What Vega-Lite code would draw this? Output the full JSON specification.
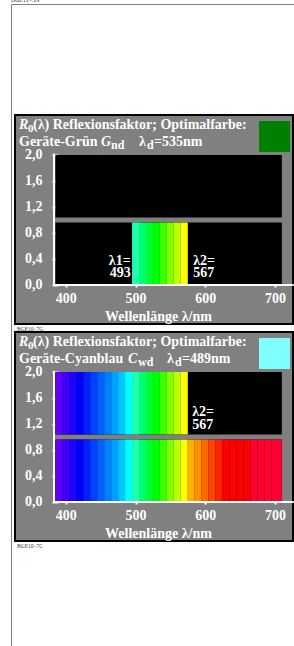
{
  "$schema": "https://vega.github.io/schema/vega-lite/v6.json",
  "autosize": {"type": "none"},
  "padding": {"left": 15, "top": 115, "right": 279, "bottom": 531},
  "background": "#ffffff",
  "spacing": 8,
  "bounds": "flush",
  "datasets": {
    "one": [{}],
    "blocks": [
      {"a": 385, "b": 710, "lo": 0, "hi": 0.96},
      {"a": 385, "b": 710, "lo": 1.04, "hi": 2.0}
    ],
    "spec1": [
      {"nm": 500, "start": 495, "end": 505, "r0": 0, "r1": 0.96},
      {"nm": 510, "start": 505, "end": 515, "r0": 0, "r1": 0.96},
      {"nm": 520, "start": 515, "end": 525, "r0": 0, "r1": 0.96},
      {"nm": 530, "start": 525, "end": 535, "r0": 0, "r1": 0.96},
      {"nm": 540, "start": 535, "end": 545, "r0": 0, "r1": 0.96},
      {"nm": 550, "start": 545, "end": 555, "r0": 0, "r1": 0.96},
      {"nm": 560, "start": 555, "end": 565, "r0": 0, "r1": 0.96},
      {"nm": 570, "start": 565, "end": 575, "r0": 0, "r1": 0.96}
    ],
    "spec2": [
      {"nm": 390, "start": 385, "end": 395, "r0": 1.04, "r1": 2.0},
      {"nm": 400, "start": 395, "end": 405, "r0": 1.04, "r1": 2.0},
      {"nm": 410, "start": 405, "end": 415, "r0": 1.04, "r1": 2.0},
      {"nm": 420, "start": 415, "end": 425, "r0": 1.04, "r1": 2.0},
      {"nm": 430, "start": 425, "end": 435, "r0": 1.04, "r1": 2.0},
      {"nm": 440, "start": 435, "end": 445, "r0": 1.04, "r1": 2.0},
      {"nm": 450, "start": 445, "end": 455, "r0": 1.04, "r1": 2.0},
      {"nm": 460, "start": 455, "end": 465, "r0": 1.04, "r1": 2.0},
      {"nm": 470, "start": 465, "end": 475, "r0": 1.04, "r1": 2.0},
      {"nm": 480, "start": 475, "end": 485, "r0": 1.04, "r1": 2.0},
      {"nm": 490, "start": 485, "end": 495, "r0": 1.04, "r1": 2.0},
      {"nm": 500, "start": 495, "end": 505, "r0": 1.04, "r1": 2.0},
      {"nm": 510, "start": 505, "end": 515, "r0": 1.04, "r1": 2.0},
      {"nm": 520, "start": 515, "end": 525, "r0": 1.04, "r1": 2.0},
      {"nm": 530, "start": 525, "end": 535, "r0": 1.04, "r1": 2.0},
      {"nm": 540, "start": 535, "end": 545, "r0": 1.04, "r1": 2.0},
      {"nm": 550, "start": 545, "end": 555, "r0": 1.04, "r1": 2.0},
      {"nm": 560, "start": 555, "end": 565, "r0": 1.04, "r1": 2.0},
      {"nm": 570, "start": 565, "end": 575, "r0": 1.04, "r1": 2.0},
      {"nm": 390, "start": 385, "end": 395, "r0": 0, "r1": 0.96},
      {"nm": 400, "start": 395, "end": 405, "r0": 0, "r1": 0.96},
      {"nm": 410, "start": 405, "end": 415, "r0": 0, "r1": 0.96},
      {"nm": 420, "start": 415, "end": 425, "r0": 0, "r1": 0.96},
      {"nm": 430, "start": 425, "end": 435, "r0": 0, "r1": 0.96},
      {"nm": 440, "start": 435, "end": 445, "r0": 0, "r1": 0.96},
      {"nm": 450, "start": 445, "end": 455, "r0": 0, "r1": 0.96},
      {"nm": 460, "start": 455, "end": 465, "r0": 0, "r1": 0.96},
      {"nm": 470, "start": 465, "end": 475, "r0": 0, "r1": 0.96},
      {"nm": 480, "start": 475, "end": 485, "r0": 0, "r1": 0.96},
      {"nm": 490, "start": 485, "end": 495, "r0": 0, "r1": 0.96},
      {"nm": 500, "start": 495, "end": 505, "r0": 0, "r1": 0.96},
      {"nm": 510, "start": 505, "end": 515, "r0": 0, "r1": 0.96},
      {"nm": 520, "start": 515, "end": 525, "r0": 0, "r1": 0.96},
      {"nm": 530, "start": 525, "end": 535, "r0": 0, "r1": 0.96},
      {"nm": 540, "start": 535, "end": 545, "r0": 0, "r1": 0.96},
      {"nm": 550, "start": 545, "end": 555, "r0": 0, "r1": 0.96},
      {"nm": 560, "start": 555, "end": 565, "r0": 0, "r1": 0.96},
      {"nm": 570, "start": 565, "end": 575, "r0": 0, "r1": 0.96},
      {"nm": 580, "start": 575, "end": 585, "r0": 0, "r1": 0.96},
      {"nm": 590, "start": 585, "end": 595, "r0": 0, "r1": 0.96},
      {"nm": 600, "start": 595, "end": 605, "r0": 0, "r1": 0.96},
      {"nm": 610, "start": 605, "end": 615, "r0": 0, "r1": 0.96},
      {"nm": 620, "start": 615, "end": 625, "r0": 0, "r1": 0.96},
      {"nm": 630, "start": 625, "end": 635, "r0": 0, "r1": 0.96},
      {"nm": 640, "start": 635, "end": 645, "r0": 0, "r1": 0.96},
      {"nm": 650, "start": 645, "end": 655, "r0": 0, "r1": 0.96},
      {"nm": 660, "start": 655, "end": 665, "r0": 0, "r1": 0.96},
      {"nm": 670, "start": 665, "end": 675, "r0": 0, "r1": 0.96},
      {"nm": 680, "start": 675, "end": 685, "r0": 0, "r1": 0.96},
      {"nm": 690, "start": 685, "end": 695, "r0": 0, "r1": 0.96},
      {"nm": 700, "start": 695, "end": 710, "r0": 0, "r1": 0.96}
    ],
    "lab1L": [{"t": "λ1=", "nm": 493, "r": 0.3}, {"t": "493", "nm": 493, "r": 0.119}],
    "lab1R": [{"t": "λ2=", "nm": 567, "r": 0.3}, {"t": "567", "nm": 567, "r": 0.119}],
    "lab2R": [{"t": "λ2=", "nm": 567, "r": 1.327}, {"t": "567", "nm": 567, "r": 1.118}]
  },
  "vconcat": [
    {
      "width": 278,
      "height": 209,
      "view": {"fill": "#808080", "stroke": "#000000", "strokeWidth": 2},
      "layer": [
        {
          "data": {"name": "blocks"},
          "mark": {"type": "rect", "color": "#000000"},
          "encoding": {
            "x": {"field": "a", "type": "quantitative", "scale": {"domain": [327, 726], "nice": false, "zero": false},
              "axis": {"values": [400, 500, 600, 700], "offset": -42, "domain": false, "grid": false, "tickSize": 5, "tickWidth": 2, "tickColor": "#ffffff", "labelColor": "#ffffff", "labelFont": "Liberation Serif", "labelFontSize": 14, "labelFontWeight": "bold", "labelPadding": 4, "labelFlush": false, "labelOverlap": false, "title": "Wellenlänge λ/nm", "titleColor": "#ffffff", "titleFont": "Liberation Serif", "titleFontSize": 14, "titleFontWeight": "bold", "titlePadding": 4, "titleX": 143}},
            "x2": {"field": "b"},
            "y": {"field": "lo", "type": "quantitative", "scale": {"domain": [-0.6, 2.615], "nice": false, "zero": false},
              "axis": {"values": [0, 0.4, 0.8, 1.2, 1.6, 2.0], "offset": -43, "domain": false, "grid": false, "tickSize": 6, "tickWidth": 2, "tickColor": "#ffffff", "labelColor": "#ffffff", "labelFont": "Liberation Serif", "labelFontSize": 14, "labelFontWeight": "bold", "labelPadding": 10, "labelFlush": false, "labelOverlap": false, "labelExpr": "replace(format(datum.value, '.1f'), '.', ',')", "title": null}},
            "y2": {"field": "hi"}
          }
        },
        {
          "data": {"name": "spec1"},
          "mark": {"type": "rect"},
          "encoding": {
            "x": {"field": "start", "type": "quantitative"},
            "x2": {"field": "end"},
            "y": {"field": "r0", "type": "quantitative"},
            "y2": {"field": "r1"},
            "color": {"field": "nm", "type": "ordinal", "legend": null,
              "scale": {"domain": [390, 400, 410, 420, 430, 440, 450, 460, 470, 480, 490, 500, 510, 520, 530, 540, 550, 560, 570, 580, 590, 600, 610, 620, 630, 640, 650, 660, 670, 680, 690, 700],
                "range": ["#6000ff", "#4000ff", "#2000ff", "#0000ff", "#0020ff", "#0040ff", "#0060ff", "#0080ff", "#00a0ff", "#00c8ff", "#00ffff", "#20ffb0", "#00ff70", "#00ff30", "#00ff00", "#40ff00", "#80ff00", "#c0ff00", "#ffff00", "#ffb000", "#ff9000", "#ff6a00", "#ff4400", "#ff2200", "#ff0000", "#ff0000", "#ff0000", "#ff0000", "#ff0030", "#ff0030", "#ff0030", "#ff0030"]}}
          }
        },
        {
          "data": {"name": "one"},
          "mark": {"type": "rule", "color": "#ffffff", "strokeWidth": 2},
          "encoding": {"x": {"datum": 383}, "y": {"datum": 0}, "y2": {"datum": 2.02}}
        },
        {
          "data": {"name": "one"},
          "mark": {"type": "rule", "color": "#ffffff", "strokeWidth": 2},
          "encoding": {"x": {"datum": 383}, "x2": {"datum": 727}, "y": {"datum": 0}}
        },
        {
          "data": {"name": "lab1L"},
          "mark": {"type": "text", "align": "right", "baseline": "alphabetic", "font": "Liberation Serif", "fontSize": 14, "fontWeight": "bold", "color": "#ffffff"},
          "encoding": {"x": {"field": "nm", "type": "quantitative"}, "y": {"field": "r", "type": "quantitative"}, "text": {"field": "t"}}
        },
        {
          "data": {"name": "lab1R"},
          "mark": {"type": "text", "align": "left", "baseline": "alphabetic", "dx": 11, "font": "Liberation Serif", "fontSize": 14, "fontWeight": "bold", "color": "#ffffff"},
          "encoding": {"x": {"field": "nm", "type": "quantitative"}, "y": {"field": "r", "type": "quantitative"}, "text": {"field": "t"}}
        },
        {
          "data": {"name": "one"},
          "mark": {"type": "rect", "color": "#008000"},
          "encoding": {"x": {"datum": 677.2}, "x2": {"datum": 721.7}, "y": {"datum": 2.523}, "y2": {"datum": 2.046}}
        },
        {
          "data": {"name": "one"},
          "mark": {"type": "text", "text": "R", "align": "left", "baseline": "alphabetic", "dx": 4, "font": "Liberation Serif", "fontSize": 14, "fontWeight": "bold", "fontStyle": "italic", "color": "#ffffff"},
          "encoding": {"x": {"datum": 327}, "y": {"datum": 2.407}}
        },
        {
          "data": {"name": "one"},
          "mark": {"type": "text", "text": "0", "align": "left", "baseline": "alphabetic", "dx": 13, "dy": 3, "font": "Liberation Serif", "fontSize": 11, "fontWeight": "bold", "color": "#ffffff"},
          "encoding": {"x": {"datum": 327}, "y": {"datum": 2.407}}
        },
        {
          "data": {"name": "one"},
          "mark": {"type": "text", "text": "(λ) Reflexionsfaktor; Optimalfarbe:", "align": "left", "baseline": "alphabetic", "dx": 18, "font": "Liberation Serif", "fontSize": 14, "fontWeight": "bold", "color": "#ffffff"},
          "encoding": {"x": {"datum": 327}, "y": {"datum": 2.407}}
        },
        {
          "data": {"name": "one"},
          "mark": {"type": "text", "text": "Geräte-Grün", "align": "left", "baseline": "alphabetic", "dx": 4, "font": "Liberation Serif", "fontSize": 14, "fontWeight": "bold", "color": "#ffffff"},
          "encoding": {"x": {"datum": 327}, "y": {"datum": 2.138}}
        },
        {
          "data": {"name": "one"},
          "mark": {"type": "text", "text": "G", "align": "left", "baseline": "alphabetic", "dx": 86, "font": "Liberation Serif", "fontSize": 14, "fontWeight": "bold", "fontStyle": "italic", "color": "#ffffff"},
          "encoding": {"x": {"datum": 327}, "y": {"datum": 2.138}}
        },
        {
          "data": {"name": "one"},
          "mark": {"type": "text", "text": "nd", "align": "left", "baseline": "alphabetic", "dx": 96, "dy": 3, "font": "Liberation Serif", "fontSize": 12, "fontWeight": "bold", "color": "#ffffff"},
          "encoding": {"x": {"datum": 327}, "y": {"datum": 2.138}}
        },
        {
          "data": {"name": "one"},
          "mark": {"type": "text", "text": "λ", "align": "left", "baseline": "alphabetic", "dx": 124, "font": "Liberation Serif", "fontSize": 14, "fontWeight": "bold", "color": "#ffffff"},
          "encoding": {"x": {"datum": 327}, "y": {"datum": 2.138}}
        },
        {
          "data": {"name": "one"},
          "mark": {"type": "text", "text": "d", "align": "left", "baseline": "alphabetic", "dx": 132, "dy": 3, "font": "Liberation Serif", "fontSize": 12, "fontWeight": "bold", "color": "#ffffff"},
          "encoding": {"x": {"datum": 327}, "y": {"datum": 2.138}}
        },
        {
          "data": {"name": "one"},
          "mark": {"type": "text", "text": "=535nm", "align": "left", "baseline": "alphabetic", "dx": 139, "font": "Liberation Serif", "fontSize": 14, "fontWeight": "bold", "color": "#ffffff"},
          "encoding": {"x": {"datum": 327}, "y": {"datum": 2.138}}
        },
        {
          "data": {"name": "one"},
          "mark": {"type": "text", "text": "BGE10−7G", "align": "left", "baseline": "alphabetic", "font": "Liberation Serif", "fontSize": 5.5, "color": "#333333"},
          "encoding": {"x": {"datum": 329.9}, "y": {"datum": -0.7}}
        },
        {
          "data": {"name": "one"},
          "mark": {"type": "text", "text": "BGE11−3N", "align": "left", "baseline": "alphabetic", "font": "Liberation Serif", "fontSize": 6, "color": "#333333"},
          "encoding": {"x": {"datum": 321.3}, "y": {"datum": 4.353}}
        },
        {
          "data": {"name": "one"},
          "mark": {"type": "rule", "color": "#808080", "strokeWidth": 1},
          "encoding": {"x": {"datum": 322}, "y": {"datum": 4.315}, "y2": {"datum": -5.6}}
        },
        {
          "data": {"name": "one"},
          "mark": {"type": "rule", "color": "#808080", "strokeWidth": 1},
          "encoding": {"x": {"datum": 322}, "x2": {"datum": 730}, "y": {"datum": 4.315}}
        }
      ]
    },
    {
      "width": 278,
      "height": 209,
      "view": {"fill": "#808080", "stroke": "#000000", "strokeWidth": 2},
      "layer": [
        {
          "data": {"name": "blocks"},
          "mark": {"type": "rect", "color": "#000000"},
          "encoding": {
            "x": {"field": "a", "type": "quantitative", "scale": {"domain": [327, 726], "nice": false, "zero": false},
              "axis": {"values": [400, 500, 600, 700], "offset": -42, "domain": false, "grid": false, "tickSize": 5, "tickWidth": 2, "tickColor": "#ffffff", "labelColor": "#ffffff", "labelFont": "Liberation Serif", "labelFontSize": 14, "labelFontWeight": "bold", "labelPadding": 4, "labelFlush": false, "labelOverlap": false, "title": "Wellenlänge λ/nm", "titleColor": "#ffffff", "titleFont": "Liberation Serif", "titleFontSize": 14, "titleFontWeight": "bold", "titlePadding": 4, "titleX": 143}},
            "x2": {"field": "b"},
            "y": {"field": "lo", "type": "quantitative", "scale": {"domain": [-0.6, 2.615], "nice": false, "zero": false},
              "axis": {"values": [0, 0.4, 0.8, 1.2, 1.6, 2.0], "offset": -43, "domain": false, "grid": false, "tickSize": 6, "tickWidth": 2, "tickColor": "#ffffff", "labelColor": "#ffffff", "labelFont": "Liberation Serif", "labelFontSize": 14, "labelFontWeight": "bold", "labelPadding": 10, "labelFlush": false, "labelOverlap": false, "labelExpr": "replace(format(datum.value, '.1f'), '.', ',')", "title": null}},
            "y2": {"field": "hi"}
          }
        },
        {
          "data": {"name": "spec2"},
          "mark": {"type": "rect"},
          "encoding": {
            "x": {"field": "start", "type": "quantitative"},
            "x2": {"field": "end"},
            "y": {"field": "r0", "type": "quantitative"},
            "y2": {"field": "r1"},
            "color": {"field": "nm", "type": "ordinal", "legend": null,
              "scale": {"domain": [390, 400, 410, 420, 430, 440, 450, 460, 470, 480, 490, 500, 510, 520, 530, 540, 550, 560, 570, 580, 590, 600, 610, 620, 630, 640, 650, 660, 670, 680, 690, 700],
                "range": ["#6000ff", "#4000ff", "#2000ff", "#0000ff", "#0020ff", "#0040ff", "#0060ff", "#0080ff", "#00a0ff", "#00c8ff", "#00ffff", "#20ffb0", "#00ff70", "#00ff30", "#00ff00", "#40ff00", "#80ff00", "#c0ff00", "#ffff00", "#ffb000", "#ff9000", "#ff6a00", "#ff4400", "#ff2200", "#ff0000", "#ff0000", "#ff0000", "#ff0000", "#ff0030", "#ff0030", "#ff0030", "#ff0030"]}}
          }
        },
        {
          "data": {"name": "one"},
          "mark": {"type": "rule", "color": "#ffffff", "strokeWidth": 2},
          "encoding": {"x": {"datum": 383}, "y": {"datum": 0}, "y2": {"datum": 2.02}}
        },
        {
          "data": {"name": "one"},
          "mark": {"type": "rule", "color": "#ffffff", "strokeWidth": 2},
          "encoding": {"x": {"datum": 383}, "x2": {"datum": 727}, "y": {"datum": 0}}
        },
        {
          "data": {"name": "lab2R"},
          "mark": {"type": "text", "align": "left", "baseline": "alphabetic", "dx": 10, "font": "Liberation Serif", "fontSize": 14, "fontWeight": "bold", "color": "#ffffff"},
          "encoding": {"x": {"field": "nm", "type": "quantitative"}, "y": {"field": "r", "type": "quantitative"}, "text": {"field": "t"}}
        },
        {
          "data": {"name": "one"},
          "mark": {"type": "rect", "color": "#80ffff"},
          "encoding": {"x": {"datum": 677.2}, "x2": {"datum": 721.7}, "y": {"datum": 2.523}, "y2": {"datum": 2.046}}
        },
        {
          "data": {"name": "one"},
          "mark": {"type": "text", "text": "R", "align": "left", "baseline": "alphabetic", "dx": 4, "font": "Liberation Serif", "fontSize": 14, "fontWeight": "bold", "fontStyle": "italic", "color": "#ffffff"},
          "encoding": {"x": {"datum": 327}, "y": {"datum": 2.407}}
        },
        {
          "data": {"name": "one"},
          "mark": {"type": "text", "text": "0", "align": "left", "baseline": "alphabetic", "dx": 13, "dy": 3, "font": "Liberation Serif", "fontSize": 11, "fontWeight": "bold", "color": "#ffffff"},
          "encoding": {"x": {"datum": 327}, "y": {"datum": 2.407}}
        },
        {
          "data": {"name": "one"},
          "mark": {"type": "text", "text": "(λ) Reflexionsfaktor; Optimalfarbe:", "align": "left", "baseline": "alphabetic", "dx": 18, "font": "Liberation Serif", "fontSize": 14, "fontWeight": "bold", "color": "#ffffff"},
          "encoding": {"x": {"datum": 327}, "y": {"datum": 2.407}}
        },
        {
          "data": {"name": "one"},
          "mark": {"type": "text", "text": "Geräte-Cyanblau", "align": "left", "baseline": "alphabetic", "dx": 4, "font": "Liberation Serif", "fontSize": 14, "fontWeight": "bold", "color": "#ffffff"},
          "encoding": {"x": {"datum": 327}, "y": {"datum": 2.138}}
        },
        {
          "data": {"name": "one"},
          "mark": {"type": "text", "text": "C", "align": "left", "baseline": "alphabetic", "dx": 113, "font": "Liberation Serif", "fontSize": 14, "fontWeight": "bold", "fontStyle": "italic", "color": "#ffffff"},
          "encoding": {"x": {"datum": 327}, "y": {"datum": 2.138}}
        },
        {
          "data": {"name": "one"},
          "mark": {"type": "text", "text": "wd", "align": "left", "baseline": "alphabetic", "dx": 123, "dy": 3, "font": "Liberation Serif", "fontSize": 12, "fontWeight": "bold", "color": "#ffffff"},
          "encoding": {"x": {"datum": 327}, "y": {"datum": 2.138}}
        },
        {
          "data": {"name": "one"},
          "mark": {"type": "text", "text": "λ", "align": "left", "baseline": "alphabetic", "dx": 152, "font": "Liberation Serif", "fontSize": 14, "fontWeight": "bold", "color": "#ffffff"},
          "encoding": {"x": {"datum": 327}, "y": {"datum": 2.138}}
        },
        {
          "data": {"name": "one"},
          "mark": {"type": "text", "text": "d", "align": "left", "baseline": "alphabetic", "dx": 160, "dy": 3, "font": "Liberation Serif", "fontSize": 12, "fontWeight": "bold", "color": "#ffffff"},
          "encoding": {"x": {"datum": 327}, "y": {"datum": 2.138}}
        },
        {
          "data": {"name": "one"},
          "mark": {"type": "text", "text": "=489nm", "align": "left", "baseline": "alphabetic", "dx": 167, "font": "Liberation Serif", "fontSize": 14, "fontWeight": "bold", "color": "#ffffff"},
          "encoding": {"x": {"datum": 327}, "y": {"datum": 2.138}}
        },
        {
          "data": {"name": "one"},
          "mark": {"type": "text", "text": "BGE10−7C", "align": "left", "baseline": "alphabetic", "font": "Liberation Serif", "fontSize": 5.5, "color": "#333333"},
          "encoding": {"x": {"datum": 329.9}, "y": {"datum": -0.7}}
        }
      ]
    }
  ]
}
